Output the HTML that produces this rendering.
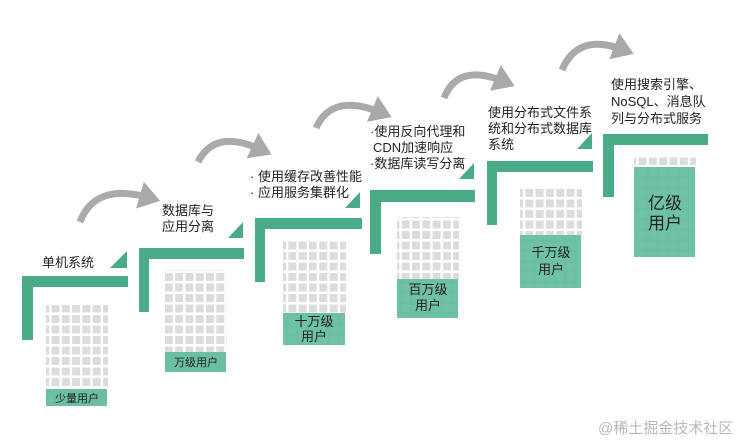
<!DOCTYPE html>
<html><head><meta charset="utf-8"><style>
body{margin:0;background:#fff;}
svg{display:block;}
text{font-family:"Liberation Sans","Noto Sans CJK SC",sans-serif;fill:#222;}
</style></head><body>
<svg width="742" height="441" viewBox="0 0 742 441" xmlns="http://www.w3.org/2000/svg">
<defs>
<pattern id="g" x="0" y="0" width="10.3" height="10.5" patternUnits="userSpaceOnUse">
<rect x="0" y="0" width="8" height="8" fill="#dcdcdc"/>
</pattern>
<pattern id="g2" x="0" y="0" width="10.3" height="10.5" patternUnits="userSpaceOnUse">
<rect x="0" y="0" width="10.3" height="10.5" fill="#6cbfa2"/>
<rect x="0" y="0" width="8" height="8" fill="#70c2a6"/>
</pattern>
<marker id="ah" markerWidth="4" markerHeight="4" refX="1.5" refY="2" orient="auto" markerUnits="strokeWidth">
<path d="M0,0 L3,2 L0,4 Z" fill="#a9a9a9"/>
</marker>
</defs>
<g fill="none" stroke="#aaaaaa" stroke-width="7" marker-end="url(#ah)">
<path d="M80,222 Q95,182 150,198"/>
<path d="M198,162 Q215,128 262,150"/>
<path d="M316,128 Q332,92 382,113"/>
<path d="M444,98 Q458,62 505,82"/>
<path d="M562,70 Q578,32 624,50"/>
</g>
<g fill="#4aab87">
<rect x="22" y="276" width="106" height="11"/><rect x="22" y="276" width="11" height="64"/>
<polygon points="110,268 127,268 127,251"/>
<rect x="139" y="248" width="105" height="11"/><rect x="139" y="248" width="10" height="64"/>
<polygon points="228,238 243,238 243,222"/>
<rect x="255" y="218" width="107" height="11"/><rect x="255" y="218" width="10" height="64"/>
<polygon points="345,208 360,208 360,192"/>
<rect x="370" y="190" width="105" height="12"/><rect x="370" y="190" width="11" height="64"/>
<polygon points="459,179 474,179 474,163"/>
<rect x="487" y="161" width="106" height="11"/><rect x="487" y="161" width="10" height="64"/>
<polygon points="577,149 592,149 592,133"/>
<rect x="603" y="134" width="105" height="11"/><rect x="603" y="134" width="11" height="63"/>
</g>
<rect x="46" y="305" width="62" height="82" fill="url(#g)"/>
<rect x="46" y="389" width="61" height="17" fill="#6cbfa2"/>
<rect x="165" y="270" width="62" height="82" fill="url(#g)"/>
<rect x="165" y="352" width="61" height="20" fill="#6cbfa2"/>
<rect x="283" y="240" width="63" height="73" fill="url(#g)"/>
<rect x="283" y="313" width="62" height="32" fill="url(#g2)"/>
<rect x="397" y="217" width="62" height="63" fill="url(#g)"/>
<rect x="397" y="279" width="61" height="39" fill="url(#g2)"/>
<rect x="520" y="187" width="62" height="48" fill="url(#g)"/>
<rect x="520" y="235" width="61" height="53" fill="url(#g2)"/>
<rect x="634" y="157" width="62" height="8" fill="url(#g)"/>
<rect x="634" y="167" width="61" height="90" fill="url(#g2)"/>
<g font-size="13">
<text x="42" y="267">单机系统</text>
<text x="162" y="215">数据库与</text>
<text x="162" y="231">应用分离</text>
<text x="250" y="181">· 使用缓存改善性能</text>
<text x="250" y="197">· 应用服务集群化</text>
<text x="370" y="136">·使用反向代理和</text>
<text x="373" y="152">CDN加速响应</text>
<text x="370" y="168">·数据库读写分离</text>
<text x="488" y="117">使用分布式文件系</text>
<text x="488" y="133">统和分布式数据库</text>
<text x="488" y="149">系统</text>
<text x="611" y="89">使用搜索引擎、</text>
<text x="611" y="106">NoSQL、消息队</text>
<text x="611" y="123">列与分布式服务</text>
</g>
<g font-size="11" text-anchor="middle">
<text x="77" y="402">少量用户</text>
<text x="196" y="366">万级用户</text>
</g>
<g font-size="13" text-anchor="middle">
<text x="314" y="326">十万级</text>
<text x="314" y="341">用户</text>
<text x="428" y="294">百万级</text>
<text x="428" y="310">用户</text>
<text x="551" y="257">千万级</text>
<text x="551" y="274">用户</text>
</g>
<g font-size="17" text-anchor="middle">
<text x="665" y="209">亿级</text>
<text x="665" y="229">用户</text>
</g>
<text x="598" y="433" font-size="15" style="fill:#b8b8b8">@稀土掘金技术社区</text>
</svg>
</body></html>
